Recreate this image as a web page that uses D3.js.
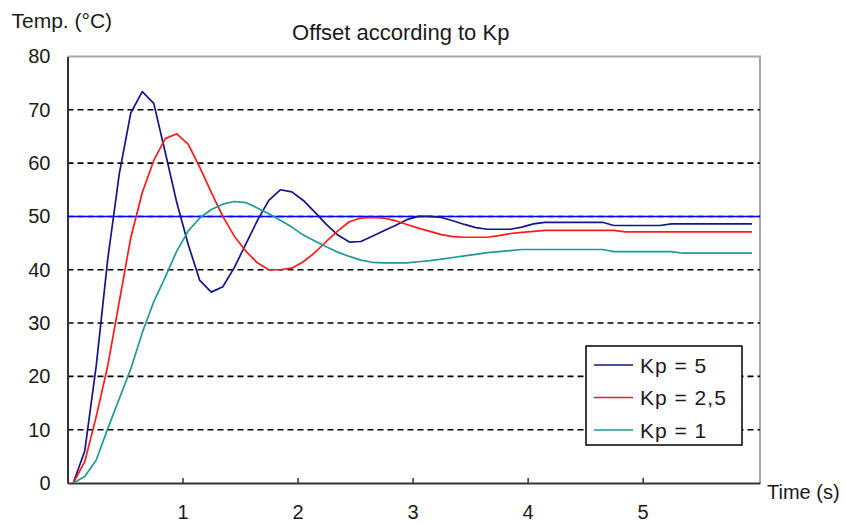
<!DOCTYPE html>
<html>
<head>
<meta charset="utf-8">
<script src="https://cdn.jsdelivr.net/npm/d3@7"></script>
<style>
  body { margin: 0; background: #fff; }
  text { font-family: "Liberation Sans", Arial, sans-serif; fill: #1a1a1a; }
</style>
</head>
<body>
<div id="offset_chart"></div>
<script>
// sample times (s), one value every 0.1 s
var times = d3.range(60).map(function(i) { return +(0.05 + i * 0.1).toFixed(2); });

// temperature for each gain
var kp5 = [0, 6, 22, 42, 58, 69.4, 73.4, 71.2, 62, 52.6,
  44.7, 38, 35.8, 36.8, 40.4, 44.8, 49.2, 53, 55, 54.6,
  53, 50.8, 48.5, 46.5, 45.2, 45.3, 46.3, 47.3, 48.3, 49.4,
  50, 50, 49.8, 49.2, 48.5, 47.9, 47.6, 47.6, 47.6, 48,
  48.6, 48.9, 48.9, 48.9, 48.9, 48.9, 48.9, 48.3, 48.3, 48.3,
  48.3, 48.3, 48.6, 48.6, 48.6, 48.6, 48.6, 48.6, 48.6, 48.6];
var kp25 = [0, 4, 12.5, 22, 34, 46, 54.5, 60.5, 64.6, 65.5,
  63.5, 59.2, 54.5, 50, 46.3, 43.5, 41.3, 40, 40, 40.3,
  41.5, 43.2, 45.3, 47.3, 49, 49.7, 49.8, 49.7, 49.2, 48.5,
  47.8, 47.2, 46.6, 46.2, 46.1, 46.1, 46.1, 46.4, 46.8, 47,
  47.2, 47.4, 47.4, 47.4, 47.4, 47.4, 47.4, 47.4, 47.1, 47.1,
  47.1, 47.1, 47.1, 47.1, 47.1, 47.1, 47.1, 47.1, 47.1, 47.1];
var kp1 = [0, 1.2, 4.3, 10.2, 15.8, 21.4, 28.2, 34, 38.6, 43.5,
  47.3, 49.7, 51.3, 52.3, 52.8, 52.6, 51.6, 50.5, 49.3, 48,
  46.5, 45.4, 44.3, 43.3, 42.5, 41.8, 41.4, 41.3, 41.3, 41.3,
  41.5, 41.7, 42, 42.3, 42.6, 42.9, 43.2, 43.4, 43.6, 43.8,
  43.8, 43.8, 43.8, 43.8, 43.8, 43.8, 43.8, 43.4, 43.4, 43.4,
  43.4, 43.4, 43.4, 43.1, 43.1, 43.1, 43.1, 43.1, 43.1, 43.1];

var seriesNames = ["Kp = 5", "Kp = 2,5", "Kp = 1"];
var seriesColors = ["#14148c", "#ff1a1a", "#1f9a96"];
var setpoint = 50;
var xTicks = [1, 2, 3, 4, 5];
var yTicks = [0, 10, 20, 30, 40, 50, 60, 70, 80];

// set the dimensions and margins of the graph
var margin = {top: 56.5, right: 85, bottom: 42, left: 67.5},
    width = 845 - margin.left - margin.right,
    height = 525 - margin.top - margin.bottom;

var svg = d3.select("#offset_chart")
  .append("svg")
    .attr("width", 845)
    .attr("height", 525)
  .append("g")
    .attr("transform", "translate(" + margin.left + "," + margin.top + ")");

var x = d3.scaleLinear().domain([0, 6.02]).range([0, width]);
var y = d3.scaleLinear().domain([0, 80]).range([height, 0]);

// frame (top and right) in grey
svg.append("path")
  .attr("d", "M0,0H" + width + "V" + height)
  .attr("fill", "none")
  .attr("stroke", "#a8a8a8")
  .attr("stroke-width", 2);

// dashed gridlines
svg.append("g")
  .selectAll("line")
  .data(yTicks.filter(function(d) { return d > 0 && d < 80; }))
  .enter().append("line")
    .attr("x1", 0)
    .attr("x2", width)
    .attr("y1", function(d) { return y(d); })
    .attr("y2", function(d) { return y(d); })
    .attr("stroke", "#000")
    .attr("stroke-width", 1.6)
    .attr("stroke-dasharray", "6,4");

// Y axis: labels only, plus the axis line
var yAxis = svg.append("g")
  .call(d3.axisLeft(y).tickValues(yTicks).tickSize(0).tickPadding(17));
yAxis.select(".domain").attr("stroke", "#333").attr("stroke-width", 2);
yAxis.selectAll("text").style("font-size", "20px").attr("fill", "#1a1a1a");

// X axis with small ticks pointing up
var xAxis = svg.append("g")
  .attr("transform", "translate(0," + height + ")")
  .call(d3.axisBottom(x).tickValues(xTicks).tickFormat(d3.format("d"))
    .tickSizeInner(-5).tickSizeOuter(0).tickPadding(22));
xAxis.select(".domain").attr("stroke", "#333").attr("stroke-width", 2);
xAxis.selectAll(".tick line").attr("stroke", "#333").attr("stroke-width", 1.5);
xAxis.selectAll("text").style("font-size", "20px").attr("fill", "#1a1a1a");

// setpoint line
svg.append("line")
  .attr("x1", 0)
  .attr("x2", width)
  .attr("y1", y(setpoint))
  .attr("y2", y(setpoint))
  .attr("stroke", "#0000ff")
  .attr("stroke-width", 1.6);

// the three responses
var line = d3.line()
  .x(function(d, i) { return x(times[i]); })
  .y(function(d) { return y(d); });

[kp5, kp25, kp1].forEach(function(s, k) {
  svg.append("path")
    .datum(s)
    .attr("fill", "none")
    .attr("stroke", seriesColors[k])
    .attr("stroke-width", 1.7)
    .attr("stroke-linejoin", "round")
    .attr("d", line);
});

// titles
svg.append("text")
  .attr("x", width / 2 - 13)
  .attr("y", -17)
  .attr("text-anchor", "middle")
  .style("font-size", "22px")
  .text("Offset according to Kp");

svg.append("text")
  .attr("x", -56)
  .attr("y", -29)
  .style("font-size", "21px")
  .text("Temp. (\u00b0C)");

svg.append("text")
  .attr("x", width + 7)
  .attr("y", height + 16)
  .style("font-size", "20px")
  .text("Time (s)");

// legend
var legend = svg.append("g")
  .attr("transform", "translate(" + (width - 174) + "," + (height - 137) + ")");

legend.append("rect")
  .attr("width", 156)
  .attr("height", 99)
  .attr("fill", "#fff")
  .attr("stroke", "#000")
  .attr("stroke-width", 1.5);

var rows = legend.selectAll("g.row")
  .data(seriesNames)
  .enter().append("g")
    .attr("class", "row")
    .attr("transform", function(d, i) { return "translate(0," + (19 + i * 32.5) + ")"; });

rows.append("line")
  .attr("x1", 8)
  .attr("x2", 47)
  .attr("stroke", function(d, i) { return seriesColors[i]; })
  .attr("stroke-width", 1.7);

rows.append("text")
  .attr("x", 54)
  .attr("dy", "0.36em")
  .style("font-size", "21px")
  .style("letter-spacing", "1px")
  .text(function(d) { return d; });
</script>
</body>
</html>
